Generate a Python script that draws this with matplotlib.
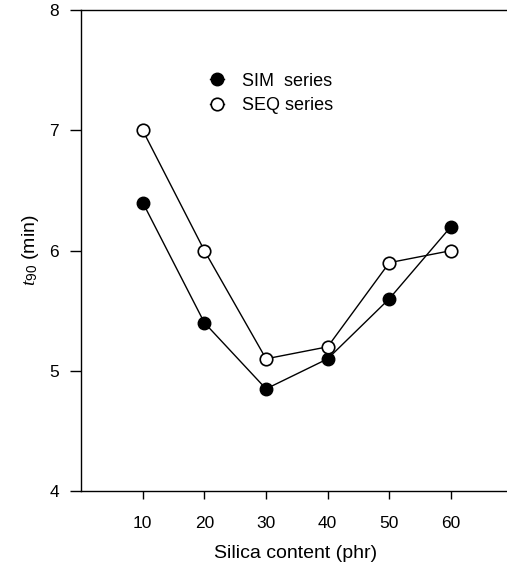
import matplotlib
matplotlib.use("Agg")
import matplotlib.pyplot as plt

silica = [10, 20, 30, 40, 50, 60]
sim_t90 = [6.4, 5.4, 4.85, 5.1, 5.6, 6.2]
seq_t90 = [7.0, 6.0, 5.1, 5.2, 5.9, 6.0]

plt.rcParams["font.family"] = ["Liberation Sans", "DejaVu Sans"]
plt.rcParams["mathtext.fontset"] = "custom"
plt.rcParams["mathtext.it"] = "Liberation Serif:italic"
plt.rcParams["mathtext.rm"] = "Liberation Sans"

fig = plt.figure(figsize=(5.07, 5.69), dpi=100)
ax = fig.add_axes([0.16, 0.137, 0.845, 0.845])

ax.plot(silica, sim_t90, "-o", color="black", lw=1.0, ms=9,
        mfc="black", mec="black", label="SIM  series", clip_on=False)
ax.plot(silica, seq_t90, "-o", color="black", lw=1.0, ms=9,
        mfc="white", mec="black", mew=1.2, label="SEQ series", clip_on=False)

ax.set_xlim(0, 69.5)
ax.set_ylim(4, 8)
ax.set_xticks(silica)
ax.set_yticks([4, 5, 6, 7, 8])
ax.spines["right"].set_visible(False)
for s in ["left", "top", "bottom"]:
    ax.spines[s].set_linewidth(1.0)
ax.tick_params(axis="x", direction="out", length=6, width=1, pad=12, labelsize=12.5)
ax.tick_params(axis="y", direction="out", length=8, width=1, pad=8, labelsize=12.5)

ax.set_xlabel("Silica content (phr)", fontsize=14, labelpad=10)
ax.set_ylabel(r"$t_{90}$ (min)", fontsize=14, labelpad=6)

ax.legend(loc="upper left", bbox_to_anchor=(0.30, 0.87), frameon=False,
          fontsize=13, handlelength=0.8, handletextpad=1.0, labelspacing=0.4,
          borderaxespad=0, borderpad=0)

fig.savefig("out.png", dpi=100)
